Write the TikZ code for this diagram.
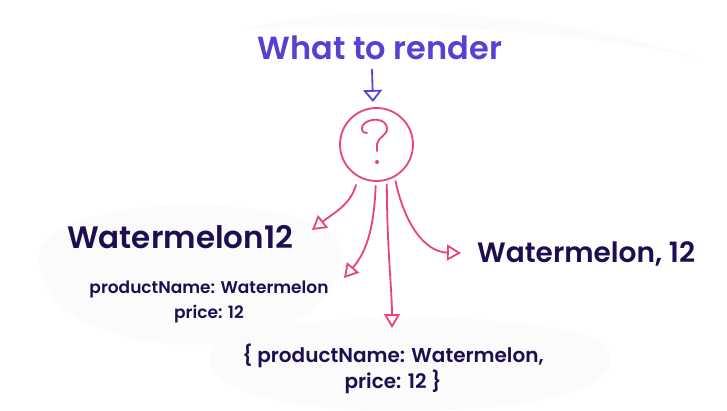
\documentclass[tikz,border=0pt]{standalone}
\usepackage{fontspec}
\setmainfont{Poppins SemiBold}
\usetikzlibrary{arrows.meta}
\definecolor{titlepurple}{HTML}{5A3FD1}
\definecolor{arrowblue}{HTML}{5543D6}
\definecolor{pinkline}{HTML}{E8447A}
\definecolor{darktext}{HTML}{1E0E50}
\definecolor{blob}{HTML}{FBFBFC}
\tikzset{
  pinkarrow/.style={draw=pinkline, line width=1.8pt, line cap=round,
    -{Triangle[open, length=14pt, width=16pt, line width=1.8pt]}},
  bluearrow/.style={draw=arrowblue, line width=1.8pt, line cap=round,
    -{Triangle[open, length=12pt, width=19pt, line width=1.8pt]}},
  lbl/.style={text=darktext, inner sep=0pt},
}
\begin{document}
\begin{tikzpicture}[x=1pt,y=-1pt]
\useasboundingbox (0,0) rectangle (727,411);
\fill[white] (0,0) rectangle (727,411);
% faint background blobs
\fill[blob] (40,250) .. controls (60,200) and (250,190) .. (330,230) .. controls (360,260) and (330,340) .. (200,345) .. controls (90,345) and (30,300) .. (40,250);
\fill[blob] (220,340) .. controls (300,310) and (520,310) .. (600,340) .. controls (640,380) and (560,411) .. (400,411) .. controls (260,411) and (180,380) .. (220,340);
\fill[blob] (240,30) .. controls (350,0) and (560,10) .. (700,60) .. controls (600,30) and (380,20) .. (240,30);

% title
\node[text=titlepurple, font=\fontsize{32}{38}\selectfont, anchor=base, inner sep=0pt] (title) at (380,60) {What to render};

% circle with question mark
\node[circle, draw=pinkline, line width=1.8pt, minimum size=73pt, inner sep=0pt] (q) at (376.5,144.5) {};
\draw[pinkline, line width=1.8pt, line cap=round, line join=round]
  (367,133) .. controls (361,134) and (360,126) .. (365,123)
  .. controls (371,118) and (386,118) .. (387,128)
  .. controls (388,135) and (378,137) .. (377,144)
  -- (377,151);
\fill[pinkline] (377,162) circle (2pt);

% blue arrow
\coordinate (btip) at (373,102);
\draw[bluearrow] (title.south) ++(-8,9) coordinate (bstart) -- (btip);

% labels
\node[lbl, font=\fontsize{31}{36}\selectfont, anchor=base west] (w12) at (67,249) {Watermelon12};
\node[lbl, font=\fontsize{17}{20}\selectfont, anchor=base] (pn1) at (209,293) {productName: Watermelon};
\node[lbl, font=\fontsize{17}{20}\selectfont, anchor=base] (pn2) at (209,318) {price: 12};
\node[lbl, font=\fontsize{28}{34}\selectfont, anchor=base west] (wc) at (477,263) {Watermelon, 12};
\node[lbl, font=\fontsize{20}{24}\selectfont, anchor=base] (obj1) at (393,362) {\{ productName: Watermelon,};
\node[lbl, font=\fontsize{20}{24}\selectfont, anchor=base] (obj2) at (393,388) {price: 12 \}};

% pink arrows
\coordinate (t1) at (312,230);
\coordinate (t2) at (344,278);
\coordinate (t3) at (392,328);
\coordinate (t4) at (461,253);
\draw[pinkarrow, shorten <=8pt] (q.241) .. controls (350,205) and (335,212) .. (t1);
\draw[pinkarrow, shorten <=4pt] (q.269) .. controls (374,225) and (368,250) .. (t2);
\draw[pinkarrow, shorten <=4pt] (q.286) .. controls (387,250) and (392,290) .. (t3);
\draw[pinkarrow, shorten <=4pt] (q.299) .. controls (405,225) and (425,252) .. (t4);
\end{tikzpicture}
\end{document}
